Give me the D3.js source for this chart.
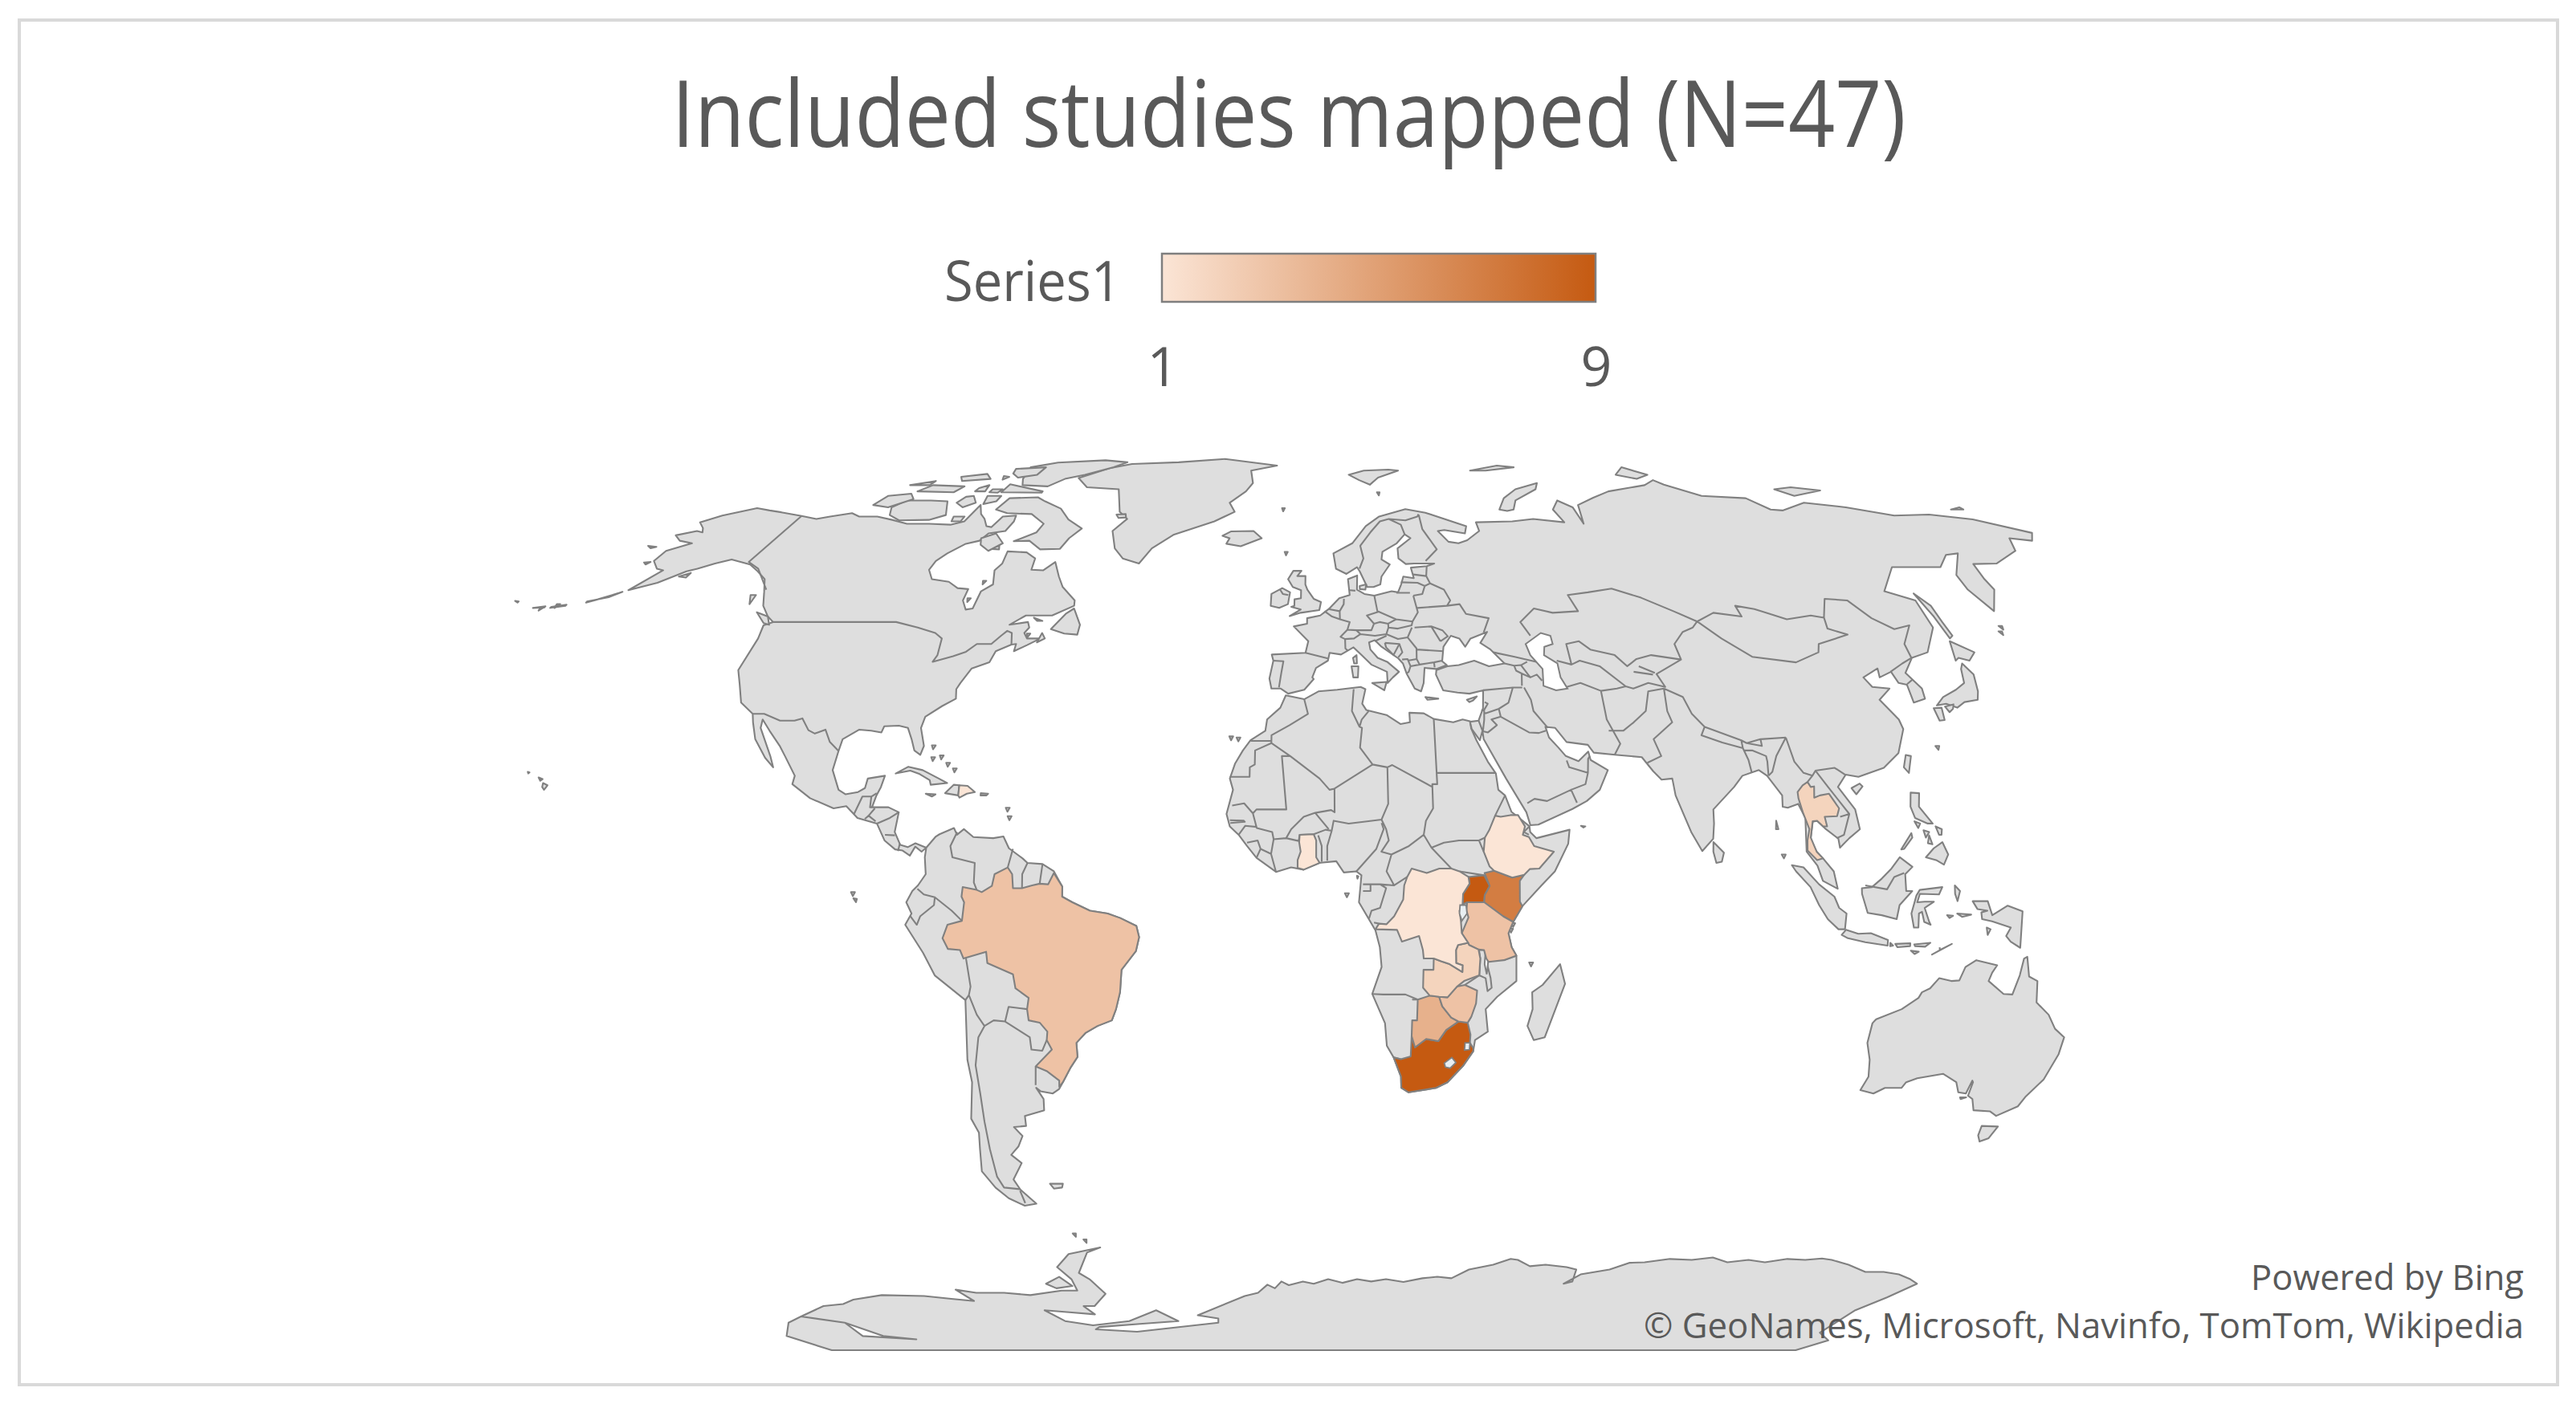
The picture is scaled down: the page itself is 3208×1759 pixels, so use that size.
<!DOCTYPE html>
<html>
<head>
<meta charset="utf-8">
<script src="https://cdn.jsdelivr.net/npm/d3@7"></script>
<style>
  html, body { margin: 0; padding: 0; background: #fff; }
  text { font-family: "Open Sans", sans-serif; fill: #595959; }
  .land { fill: #dedede; stroke: #808080; stroke-width: 2.1; stroke-linejoin: round; }
  .border { fill: none; stroke: #808080; stroke-width: 2.1; stroke-linejoin: round; }
  .hole { fill: #e9eff2; stroke: #808080; stroke-width: 1.8; }
  .water { fill: #fff; stroke: #808080; stroke-width: 2; }
</style>
</head>
<body>
<div id="chart"></div>
<script>
// values per country, estimated from the shading
const studyCountries = ["South Africa","Uganda","Kenya","Botswana","Brazil","Tanzania","Zimbabwe","Zambia","Thailand","DR Congo","Ethiopia","Ghana","Dominican Republic"];
const studyCounts = [9,9,7,4,3,3,3,2,2,1,1,1,1];
const legendTicks = [1,9];

// country outlines [lon,lat]
const southAfrica = [[16.5,-28.6],[18,-28.9],[20,-28.4],[20,-24.8],[20.8,-26.8],[23,-25.3],[25.5,-25.7],[27,-23.7],[29.4,-22.2],[31.3,-22.4],[32,-24.5],[32,-26],[32.8,-27],[32.8,-27.5],[31,-30],[28,-33],[25.7,-34],[20,-34.8],[18.4,-34],[18.2,-32]];
const uganda = [[31,2.3],[30.8,3.5],[33.9,3.8],[35,1.9],[34,0.3],[33.9,-1],[30.5,-1],[29.6,-1.4],[29.7,0.5]];
const kenya = [[33.9,-1],[34,0.3],[35,1.9],[34,4.2],[35.9,4.6],[39.5,3.4],[41.9,3.9],[41,2.8],[41,-0.9],[41.5,-1.7],[39.7,-4.5],[37.7,-3.5]];
const botswana = [[20,-18.3],[21,-18.3],[23.4,-17.6],[25.3,-17.8],[26,-19.5],[27.9,-21.5],[29.4,-22.2],[27,-23.7],[25.5,-25.7],[23,-25.3],[20.8,-26.8],[20,-24.8],[20,-22],[21,-22],[21,-18.3]];
const brazil = [[-51.7,4.2],[-50,1.8],[-50,0],[-48,-1],[-44.5,-2.5],[-41,-3],[-38.5,-3.8],[-35.3,-5.2],[-34.8,-7.2],[-35.5,-9.7],[-38.5,-13],[-39,-17],[-40,-20],[-41,-22],[-44,-23],[-46.5,-24.2],[-48.6,-26],[-48.7,-28.5],[-50.5,-30.5],[-52.5,-33],[-53.4,-33.8],[-53.2,-32.7],[-55.5,-31],[-57.6,-30.2],[-53.8,-27.2],[-54.6,-25.5],[-54.3,-24],[-55.7,-22.4],[-57.9,-22],[-58,-20],[-57.5,-18],[-60,-16.3],[-60.3,-13.8],[-65.3,-11.8],[-65.4,-9.8],[-70,-11],[-70.6,-9.5],[-73,-9.3],[-74,-7.4],[-72.9,-5],[-70,-4.3],[-69.5,-1],[-70,0],[-69.8,1.7],[-67,1.2],[-66,0.8],[-64,1.9],[-63.5,4],[-60.9,5.2],[-60,4],[-59.8,1.5],[-58,1.5],[-56,2],[-54.5,2.3],[-52.8,2.2]];
const tanzania = [[30.5,-1],[33.9,-1],[37.7,-3.5],[39.7,-4.5],[38.8,-6.5],[39.5,-9],[40.5,-10.5],[38,-11.3],[35,-11.6],[34.5,-11],[34,-9.5],[32.9,-9.4],[31,-8.6],[29.5,-6.5],[30.8,-3.7],[30.4,-2.5]];
const zimbabwe = [[25.3,-17.8],[27,-17.9],[28.8,-16],[30.4,-15.7],[32.9,-16.7],[32.8,-19],[32,-21.3],[31.3,-22.4],[29.4,-22.2],[27.9,-21.5],[26,-19.5]];
const zambia = [[24,-11],[25.5,-11.5],[27.2,-12],[29.8,-13.4],[29.8,-12.2],[28.5,-11.8],[28.4,-9.5],[28.8,-8.6],[30.8,-8.2],[31,-8.6],[32.9,-9.4],[33.3,-11],[33.2,-14],[30.2,-15],[28.8,-16],[27,-17.9],[25.3,-17.8],[23.4,-17.6],[22,-16.2],[22,-13],[24,-13]];
const thailand = [[100,20.4],[100.5,19.5],[101.2,19.6],[100.9,17.6],[102.1,18],[104,18.3],[105.6,15.7],[105,14.3],[102.5,14.2],[102.8,12.5],[102,12.5],[100.9,13.5],[100,13.4],[99.3,10.5],[100.3,8],[101.5,6.8],[100.3,6.5],[98.5,8.2],[98.6,10],[99.2,12],[98.2,15],[97.7,17.5],[97.7,18.6],[98.9,19.8]];
const drCongo = [[12.3,-5.8],[13,-4.8],[14.5,-4.9],[16,-3.5],[17.8,-0.5],[18,2],[18.6,3.5],[19.5,5],[22.5,4.2],[25,5],[27.4,5],[29,4.5],[30.8,3.5],[31,2.3],[29.7,0.5],[29.6,-1.4],[29,-2.5],[29.3,-4.4],[29.5,-6.5],[30.8,-8.2],[28.8,-8.6],[28.4,-9.5],[28.5,-11.8],[29.8,-12.2],[29.8,-13.4],[27.2,-12],[25.5,-11.5],[24,-11],[22,-11],[21.8,-9.5],[21,-7],[17.6,-8],[16.6,-5.9]];
const ethiopia = [[36.4,14.4],[37.5,14.2],[39.5,14.5],[41,14.5],[42.3,12.5],[41.8,11],[43,10.6],[44,9],[47.9,8],[44.9,5],[43,4.9],[41.9,3.9],[39.5,3.4],[35.9,4.6],[35,5.4],[33.9,8],[34.2,10.5],[35.1,11.8]];
const ghana = [[-3.2,5.1],[-2,4.8],[1.2,6],[0.5,7],[0.5,10],[0,11.1],[-2.8,11],[-2.9,9.7],[-2.6,8],[-3.2,6.5]];
const dominican = [[-71.7,19.8],[-70,19.7],[-68.4,18.6],[-70,18.3],[-71.4,17.6],[-71.7,18]];
const studyShapes = [southAfrica,uganda,kenya,botswana,brazil,tanzania,zimbabwe,zambia,thailand,drCongo,ethiopia,ghana,dominican];

// land
const northAmerica = [[-168,65.6],[-164,66.5],[-162,66.2],[-163.5,67.1],[-166.5,68.3],[-163,69.7],[-156.5,71.3],[-152,70.8],[-148,70.4],[-141,69.6],[-136,69],[-133,69.5],[-128,70.2],[-125,69.5],[-120,69.5],[-115,68.8],[-110,68],[-104,68],[-98,67.8],[-95,68.5],[-94.5,72],[-92,70],[-90,69],[-88,67.5],[-86.5,67.3],[-85.5,69.5],[-82,69.7],[-81.5,68.5],[-82,66.5],[-86,66],[-87,64.5],[-90,63.9],[-93,62],[-94.5,60.5],[-94.7,58.8],[-92.5,57],[-88,56.5],[-85,55.3],[-82.3,55.1],[-82.2,53],[-80.5,51.3],[-79,51.5],[-79,54.7],[-77,56],[-78.5,58.7],[-77.5,60],[-78,62.4],[-73,62.2],[-70,61],[-69.5,58.8],[-66.5,58.7],[-64.5,60.3],[-62,57.5],[-60,55.5],[-56,53],[-55.7,52],[-60,50.2],[-66,50.2],[-69,48.5],[-65,49],[-64.3,48],[-65,47],[-64,46],[-61,46],[-63.5,44.8],[-66,43.7],[-66,45],[-67,44.9],[-70,43.7],[-70.6,41.7],[-74,40.6],[-75.5,38],[-76,36.9],[-75.5,35.2],[-78,33.9],[-81,32],[-81.3,30],[-80,26.8],[-80.4,25.2],[-81.8,26],[-82.8,28],[-84,30],[-86,30.4],[-89,30.3],[-89.3,29.2],[-91.5,29.5],[-94,29.7],[-97,28],[-97.3,25.8],[-97.8,22.5],[-96,19],[-94.5,18.2],[-92,18.6],[-90.7,19.3],[-90.4,21],[-87,21.5],[-87.5,19.5],[-88.2,18],[-88.8,15.9],[-85.5,15.9],[-83.3,15],[-83.8,11.5],[-82.5,9.2],[-81,8.8],[-79.5,9.5],[-77.3,8.7],[-78.2,8],[-79.5,8.9],[-80.5,7.3],[-82,8.2],[-83.5,8.4],[-85.7,10],[-87.5,13],[-91.5,14],[-94,16.1],[-96.5,15.7],[-101.5,17.5],[-105.5,20],[-105.3,21.5],[-108,25],[-109.5,26.7],[-112.5,29.5],[-114.7,31.5],[-114.5,30],[-111,25],[-110,23],[-112,24.7],[-115,28],[-116.5,31],[-117.2,32.5],[-120.5,34.5],[-122.5,37.7],[-124.3,40.3],[-124,46],[-124.7,48.4],[-123,49],[-125,50],[-128,52],[-130.3,54.5],[-133,57],[-136.5,58.5],[-140,59.8],[-146,60.8],[-149,60],[-152,59],[-154,58.5],[-158,56.3],[-163,54.9],[-160,58.7],[-162,59],[-165,60.5],[-165.2,62.5],[-161,64],[-165,64.5]];
const southAmerica = [[-77.3,8.7],[-75.5,10.7],[-74.8,11.1],[-72,12.2],[-71.3,11],[-70,12],[-68,10.6],[-64,10.4],[-62,10.7],[-60.8,8.6],[-58,6.8],[-57,6],[-54,5.8],[-51.7,4.5],[-50,1.8],[-50,0],[-48,-1],[-44.5,-2.5],[-41,-3],[-38.5,-3.8],[-35.3,-5.2],[-34.8,-7.2],[-35.5,-9.7],[-38.5,-13],[-39,-17],[-40,-20],[-41,-22],[-44,-23],[-46.5,-24.2],[-48.6,-26],[-48.7,-28.5],[-50.5,-30.5],[-52.5,-33],[-53.5,-34.2],[-55,-35],[-57.5,-34.6],[-58.3,-34],[-57.2,-36],[-57.6,-38],[-62,-39],[-62.3,-40.8],[-65,-41],[-63.7,-42.6],[-65.3,-44.5],[-67.5,-46],[-65.8,-47.5],[-69,-50.5],[-68.4,-52.4],[-66,-55],[-69,-55.4],[-72,-54],[-74,-52],[-75.5,-49],[-74,-45],[-73,-42],[-73.7,-39.5],[-71.5,-33],[-71.5,-29],[-70.3,-18.4],[-76,-14],[-78,-10],[-81.3,-5],[-80,-3],[-81,-1],[-79.8,1],[-78.7,2],[-77.2,4],[-77.5,7]];
const africa = [[-5.9,35.8],[-2,35.1],[1,36.5],[5,36.8],[10,37.3],[11,36.9],[10.2,34.3],[11,33.2],[15.2,32.3],[18,30.7],[20,31],[20,32.7],[23,32.6],[25,31.6],[29,31],[31,31.5],[32.5,31.2],[32.6,29.9],[33.5,27.8],[35.5,24],[37,21.9],[37.3,19],[38.6,18],[39.7,15.1],[43.2,12.5],[43.3,11.5],[44.5,10.4],[51.2,11.9],[50.8,9.4],[48,4.5],[45.3,2],[41.5,-1.7],[39.7,-4.5],[38.8,-6.5],[39.5,-9],[40.5,-10.5],[40.7,-15],[37,-17.8],[34.8,-20],[35.5,-24],[33,-25.5],[32.8,-27.5],[31,-30],[28,-33],[25.7,-34],[20,-34.8],[18.4,-34],[18.2,-32],[16.5,-28.6],[15,-26.5],[14.5,-22.5],[11.8,-17.3],[13.6,-12.5],[13.2,-9],[12.3,-6],[9,-1],[9.5,3.8],[8.5,4.5],[6,4.3],[4.5,6.3],[1,6],[-2,4.8],[-4.5,5.2],[-7.5,4.4],[-11.4,6.9],[-13.3,9],[-15,11],[-16.8,12.5],[-17.5,14.7],[-16.3,19],[-17,21],[-16,23.7],[-14.5,26],[-13,27.8],[-10,29.5],[-9.7,31.5],[-7,33.6]];
const eurasia = [[-5.4,36.1],[-7,37],[-9,37],[-9.5,38.8],[-8.8,42],[-9.2,43.1],[-1.8,43.4],[-1.2,45.5],[-4.5,48.2],[-1.5,48.7],[-1.5,49.7],[1.5,50.2],[3.5,51.4],[6,53.4],[8.5,54],[8.3,57],[10.6,57.7],[10.3,55],[12,54.2],[14.3,53.9],[18.5,54.7],[20,54.5],[21,56],[21.8,57.5],[24.3,57.2],[24,59.2],[28,59.5],[30,60],[25,60],[22.9,59.9],[21.3,61],[21.5,63],[25.3,65],[24,65.8],[21.5,64],[17.5,62.3],[17,60.8],[18.9,59.8],[16.5,57.5],[16,56],[14.3,55.5],[12.8,55.5],[11.3,58.5],[10.7,59.3],[8,58],[5.5,59],[5,62],[10,64],[14,67.5],[18,69.5],[25.7,71.1],[31,70.3],[41,67.5],[40,66],[34.8,66.7],[33,66.5],[35,64.3],[37.5,64],[40,64.6],[44,66.5],[44,68.3],[54,68.5],[60,69],[68,68.3],[67,71],[70,73],[73,71.5],[73,68],[75,72],[81,73.6],[87,75],[100,76.5],[104.5,77.7],[106,76.6],[113,74],[125,73.5],[128,71],[131,70.8],[140,72.5],[150,71.5],[160,69.7],[170,69.9],[180,68.9],[190.2,66.1],[187,64.5],[182,65],[179,62.5],[170,60],[164,59.9],[162.5,57],[162,55],[157,51],[155.7,55],[156.8,57.8],[163.5,62],[160,61.7],[155,59.3],[143,59.3],[135.5,54.7],[141,53],[140,48],[135,43.5],[130.8,42.5],[127.5,39.8],[129.4,37],[129,35.2],[126.3,34.5],[126.6,37.7],[125,38],[124.5,40],[121.5,39],[122,40.6],[118,39],[119,37.3],[122.5,37],[119.3,35],[121.8,31.5],[122,29.8],[119.6,25.5],[116,22.9],[110.5,21.3],[108,21.7],[106,19.5],[108.8,15.5],[109.3,12],[107,10.4],[105,8.7],[104.8,10.3],[102.5,12],[100.9,13.5],[100,13.3],[99.2,10],[100.3,8],[101.5,6.8],[103.5,4.5],[104.2,1.4],[101.3,2.8],[100.3,5.5],[98.3,8],[98.6,14],[97.5,16.5],[95.3,15.8],[94.3,16],[94.5,18],[92,21.5],[90.5,22.5],[87,21.5],[85,19.5],[80.3,15.5],[80.2,13],[79.8,10.3],[77.5,8.1],[75.5,11.5],[73,18],[72.7,21],[70.5,20.8],[69,22.3],[67,24.8],[62,25.2],[57.3,25.6],[56.3,27],[52,27.5],[50,30],[48,30.2],[48.5,28.3],[50.2,26.5],[51.5,25],[54,24.1],[56.2,25.8],[56.5,24.3],[59.8,22.5],[57.8,19],[55,17],[52,15.6],[45,12.8],[43.4,12.7],[42.7,15],[39,21],[35,28],[34.9,29.5],[34.2,27.8],[32.7,29.8],[32.5,31.1],[34.3,31.3],[35.5,33.5],[36,36.7],[33,36.1],[30.5,36.3],[27.5,36.7],[26.3,39.5],[26.5,40.3],[29,41],[31.5,41.2],[35,42],[38,41],[41.5,41.5],[39,44],[37,45.2],[39,47.2],[35,46],[33.5,44.5],[32.5,46],[30.7,46.5],[28.7,44.5],[28,41.9],[28.9,41.2],[26.5,40.5],[24,40.7],[23.5,38],[22.8,36.5],[21.5,37],[20,39.7],[19.4,41.5],[18.5,42.4],[15,44.5],[13.6,45.7],[12.3,45.3],[12.5,44],[14,42.5],[16,41.8],[18.4,40],[17,39],[15.8,38],[15.8,40],[12.5,41.3],[10.5,43],[8.8,44.4],[6,43.1],[3.5,43.4],[3.1,42],[0.5,40.7],[-0.3,39],[0,38.7],[-2,36.8]];
const greenland = [[-73,78.2],[-68,76],[-58,75.5],[-54,70.5],[-51,69],[-53.5,66.5],[-51,63],[-48,61],[-43.5,60],[-41.5,63],[-37,65.7],[-27,68.5],[-22,70.5],[-24,72.5],[-20,75],[-18.5,77],[-20,80],[-12,81.5],[-30,83.5],[-45,82.5],[-60,82],[-66,80.7]];
const australia = [[113.6,-22.5],[114.2,-21.8],[119,-20],[122,-18],[122.5,-17],[124,-16.3],[125.5,-14.5],[128,-15],[129.6,-14.9],[130.5,-12.5],[132.5,-11.3],[136.8,-12.2],[136,-13.5],[135.5,-15],[139,-17.3],[140.8,-17.4],[141.6,-14],[142,-11],[142.6,-10.7],[143.5,-14.2],[145.3,-15],[146,-18.8],[149,-21],[151,-23.5],[153.3,-25],[153.4,-28],[152.5,-32.5],[150.5,-35.5],[150,-37.3],[146.5,-39],[144.7,-38.2],[141,-38],[139.5,-36],[138.2,-35.4],[138,-33],[137.7,-32.7],[137.5,-35],[135.8,-34.8],[134.5,-33],[131,-31.5],[126,-32.3],[124,-33],[123.5,-34],[120,-34],[118,-35],[115,-34.4],[115.7,-32],[114.8,-29],[113.4,-26]];
const antarctica = [[-180,-84],[-168,-80],[-160,-78.5],[-150,-80],[-154,-84],[-138,-85],[-147,-84],[-150,-80],[-160,-78.5],[-147,-76],[-140,-75.5],[-135,-74.5],[-125,-73.5],[-113,-73.7],[-106,-74.3],[-100,-74.8],[-102,-72.3],[-97,-73],[-89,-73],[-82,-73.5],[-72,-72.5],[-67.5,-72.5],[-67,-70],[-69,-67.5],[-64,-64.8],[-55,-63.5],[-59,-64.5],[-64,-68.7],[-62,-70],[-60,-73.2],[-65.7,-76],[-69,-76],[-67.7,-78],[-75,-77.5],[-82,-77],[-79,-79.6],[-71.5,-80.8],[-58.6,-79.6],[-48,-77],[-43,-79.6],[-55,-80.3],[-70,-81.3],[-72,-82],[-59,-82.7],[-30.5,-80],[-30,-79],[-36,-78.2],[-20,-73.7],[-16,-73],[-13,-71.2],[-11,-72],[-9,-70.5],[-7,-71.3],[-3,-70.5],[0,-71],[4,-70],[8,-70.8],[12,-70],[16,-70.5],[20,-70],[25,-70.6],[30,-69.8],[34,-69.5],[38,-69.8],[42,-68],[48,-67],[52,-65.8],[54,-66],[58,-67.3],[62,-67],[68,-67.5],[71,-68],[72,-70.5],[70,-71],[73,-69],[80,-68],[84,-66.6],[88,-66.5],[94,-65.8],[100,-66],[105,-65.5],[110,-66.5],[115,-66],[120,-66.5],[125,-65.8],[130,-66],[134,-65.7],[137,-66],[143,-67],[150,-68.5],[155,-68.5],[160,-69],[165,-70],[169,-71],[167,-74],[165,-77],[170,-83],[180,-85.5],[180,-90],[-180,-90]];
const bigIslands = [
  [[-80,73.7],[-77,72.8],[-71,71.2],[-67,68.9],[-62,67],[-64,65],[-65,62.9],[-70,62.8],[-74,64.5],[-78,64.4],[-73.5,66.2],[-73,68],[-78,70],[-85,70.2],[-89,71],[-88,73.5]],
  [[-117,73],[-119,71.5],[-117,69.8],[-113,68.7],[-105,68.8],[-101.5,69.8],[-105,72.8],[-110,73]],
  [[-125,72],[-124,74],[-118,74.5],[-115.5,73.3],[-120,71.5]],
  [[-62,82.5],[-70,83.1],[-85,82.4],[-92,81],[-90,78],[-88,76.5],[-80,76.2],[-77,78],[-72,79],[-65,81]],
  [[-92,76.7],[-80,75],[-80,74.7],[-92,74.8]],
  [[-117,75],[-106,74.8],[-105,76.2],[-115,76.5]],
  [[-100,75.8],[-98,76.5],[-97,75],[-100,75]],
  [[-95.5,75.5],[-92.5,75.5],[-93,74.7],[-95.5,74.8]],
  [[-101,73.8],[-99,74],[-96.5,72.5],[-99,71.5],[-102,72.5]],
  [[-95,74],[-91,74],[-91,72.8],[-94,72.2]],
  [[-99,69.5],[-96,69.5],[-96,68.5],[-98.5,68.5]],
  [[-96,80.5],[-87,81],[-87,79],[-92,78.3],[-95,79.3]],
  [[-110,78.5],[-103,79.2],[-100,78],[-108,77.5]],
  [[-122,76.5],[-116,77.5],[-116,76.5]],
  [[-97,78.7],[-95,78.5],[-96,77.8]],
  [[-83.5,62.9],[-81,63.5],[-80.5,62.8]],
  [[-54.5,69.9],[-52,70],[-51.5,69.3],[-53.5,69.2]],
  [[-87,65],[-84,66],[-80.5,64],[-83,62.5],[-86,63.7]],
  [[-59.3,47.7],[-57,50.5],[-55.5,51.5],[-53,48.5],[-53,46.7],[-56,46.9]],
  [[-64,49.8],[-61.8,49.2],[-63,49.2]],
  [[-61,47],[-60,46],[-61.5,45.3]],
  [[-128.3,50.8],[-125,50],[-123.5,48.5],[-125,48.8]],
  [[-133,54],[-131.7,54],[-131.5,52.3]],
  [[-154.5,57.5],[-152.5,58.2],[-152.5,57.3]],
  [[-84.9,21.9],[-82.5,23.1],[-79.5,22.5],[-76,21],[-74.2,20.2],[-77.5,19.9],[-77.8,20.7],[-80,21.8],[-82,22.4]],
  [[-74.4,18.4],[-72.8,19.9],[-71.7,19.8],[-71.7,18]],
  [[-78.3,18.3],[-76.3,18.2],[-77,17.8]],
  [[-67.2,18.4],[-65.7,18.3],[-66,18],[-67.2,18]],
  [[-24,65.5],[-22,66.4],[-16,66.5],[-13.6,65],[-18.8,63.4],[-22.6,63.9],[-22,65]],
  [[-10,52],[-10,54.2],[-7.5,55.3],[-5.6,54.5],[-6,52.3],[-8,51.6]],
  [[-5.5,50.1],[-3,50.7],[1.3,51.2],[1.7,52.7],[0,53.3],[-1.5,55],[-2,56],[-2,57.6],[-4,57.6],[-3,58.6],[-5,58.6],[-6.2,57],[-5,55.5],[-3,54.9],[-3,53.4],[-4.5,53.2],[-4.5,52],[-5.2,51.8],[-3,51.3]],
  [[11,55.7],[12.6,56],[12.3,55],[11,55.1]],
  [[8.2,41],[9.7,41],[9.5,39],[8.5,39]],
  [[8.6,42.5],[9.4,43],[9.4,41.5],[8.8,41.5]],
  [[12.5,38],[15.6,38.2],[15,36.7]],
  [[23.6,35.5],[26.3,35.2],[24,35]],
  [[32.3,35],[34.5,35.6],[33.6,34.9],[32.8,34.6]],
  [[11,79],[16,80],[24,80.3],[27,80],[20,78.3],[17,76.6],[14,77.7]],
  [[52,71],[55,73.5],[60,75.5],[68,77],[66,75.5],[58,73],[56,71],[54,70.7]],
  [[50,80],[60,81.5],[65,81],[55,80]],
  [[95,79],[100,81],[105,79],[100,78]],
  [[137,75.5],[143,76],[150,75.2],[140,74]],
  [[178.5,71],[182,71.5],[182,71]],
  [[142,54.3],[143.5,52],[143,49],[143,46.5],[142,46],[142,50]],
  [[140,42],[141.5,45.5],[145.3,43.5],[143,42],[141,42.5]],
  [[130.9,34],[133,35.5],[136.5,36.8],[139,38],[140,40.5],[141,41.5],[142,39.5],[141,36.5],[140,35],[137,34.6],[135,33.6],[133,34.3]],
  [[130,33.5],[131.7,33.6],[131.3,31.4],[130.2,31.3]],
  [[132.5,33.8],[134.5,34.2],[134,33.4],[133,32.8]],
  [[121,25.2],[122,25],[120.9,22],[120.1,23]],
  [[108.7,19.3],[110.5,20.1],[111,19.6],[109.5,18.2]],
  [[120.5,18.5],[122.2,18.4],[121.7,16],[124,13],[123,13],[120.6,14],[120,16]],
  [[122,7],[123.7,8.6],[125.5,9.7],[126.5,7.5],[125.5,5.7],[124,6.5]],
  [[117.2,8.4],[119.5,11.3],[119.6,10.5],[117.8,8.5]],
  [[124.5,12.5],[125.7,12],[125.5,11],[125,11]],
  [[122,11.8],[123.1,11.5],[122.3,10.5]],
  [[123,10.9],[123.5,9.3],[122.6,9.5]],
  [[120.4,13.4],[121.5,13],[121,12.2]],
  [[109,1.5],[111,1.7],[113,3.2],[115,5],[116.8,7],[119.2,5.3],[117.7,4],[117.8,1],[119,1],[116.5,-1.5],[116,-4],[113,-3.3],[110.2,-2.9],[109,0.5]],
  [[95.2,5.6],[97.5,5.2],[100.5,2.2],[103.5,0],[104.5,-2],[106,-3],[105.8,-5.8],[104.5,-5.8],[102.3,-4],[100.5,-1.5],[98.8,1.7],[96,4.5]],
  [[105.2,-6.8],[106,-5.9],[108.5,-6.6],[111,-6.5],[114.5,-7.7],[114.5,-8.7],[110,-8.1],[106.5,-7.4]],
  [[115,-8.2],[115.6,-8.7],[115,-8.8]],
  [[116,-8.4],[119,-8.3],[119,-8.8],[116.5,-9]],
  [[119.8,-8.5],[123,-8.2],[122,-8.9],[120,-8.8]],
  [[123.5,-10.3],[127.3,-8.4],[125,-9.5]],
  [[119.2,-9.6],[120.8,-9.8],[120,-10.2]],
  [[119.8,0.2],[120.5,1.2],[125,1.7],[124.3,0.4],[120.5,0.5],[120,-1],[121.5,-0.9],[123.3,-0.9],[122,-1.7],[121.5,-2],[122.5,-4.5],[122.8,-5],[121.5,-4.5],[121,-2.7],[120.4,-3],[120.4,-5.5],[119.5,-5.5],[118.9,-3]],
  [[128,-3],[130.8,-3.2],[129,-3.6]],
  [[126,-3.3],[127.2,-3.4],[126.5,-3.8]],
  [[127.5,2],[128.5,1],[128,-0.8],[127.5,0.5]],
  [[131,-0.8],[134,-0.8],[135,-3.3],[138,-1.6],[141,-2.6],[141,-9.1],[139,-8],[138,-7],[138.8,-5.5],[135,-4.4],[133,-4],[132.8,-2.8],[134,-2.5],[132,-2.2]],
  [[134,-5.5],[134.8,-5.8],[134.3,-6.8]],
  [[79.8,9.7],[81.8,7.8],[81.3,6.2],[80.2,6],[79.7,8]],
  [[49.3,-12],[50.5,-15.5],[47.2,-25],[45,-25.5],[43.5,-23],[44.3,-20],[44,-17],[46,-15.7]],
  [[144.7,-40.8],[148.3,-40.9],[148,-43],[146.5,-43.6],[145.3,-42.5]],
  [[136.7,-35.7],[138,-35.7],[137,-36]],
  [[-61,-51.3],[-58,-51.3],[-58.5,-52],[-60.5,-52.2]],
  [[-170,52.8],[-166,53.6],[-164,54.6],[-164.5,54.4],[-168,53.2],[-170,52.6]],
  [[-177,51.8],[-174,52.2],[-174,52],[-177,51.6]],
  [[-181,51.6],[-178.5,51.9],[-178.5,51.7]],
  [[-187,52.9],[-186,52.8],[-186,52.6]],
  [[-171.5,63.5],[-169,63.3],[-170,63]],
  [[-167,60.2],[-165.5,60.3],[-166,59.8]],
  [[-156,20.2],[-155,19.8],[-155.5,19],[-156,19.5]],
  [[-157.2,21.2],[-156.3,20.9],[-156.7,20.6]],
  [[-159.7,22.2],[-159.3,22.1],[-159.5,21.9]],
  [[-91.5,-0.3],[-90.8,-0.4],[-91,-1]],
  [[92.7,13.5],[93,12],[92.5,12]],
  [[53.5,12.6],[54.4,12.5],[54,12.3]],
  [[8.6,3.7],[8.9,3.6],[8.7,3.2]],
  [[-75,-71],[-70,-69.5],[-68,-71.5],[-73,-72]]
];
const tinyIslands = [[-78,26.6],[-77.7,24.5],[-76,24.8],[-74.5,23.5],[-73,22.5],[-61.5,15.5],[-61,14],[-17,28.2],[-15.5,28],[-7,62],[-8.5,71],[19,74.5],[43.5,-12],[93.7,7.2],[6.6,0.3],[39.3,-6],[39.7,-5],[128,26.5],[154.5,47],[155.5,48],[-91.6,0.5],[-176,52],[-179,51.5],[-81,53.1],[-79.5,56.4],[-64,46.6],[-60,-61],[-58,-62.2]];

// internal borders
const borders = [
  [[-2,35.1],[-1.2,32.5],[-5,30.5],[-8.7,28.7],[-8.7,27.3],[-4.8,25],[1.2,21],[3.2,19],[4.2,19.2],[12,23.5],[9.5,26.5],[10,30],[9.5,30.2],[8,33],[8.5,36.9]],
  [[-8.7,27.7],[-13,27.7]],[[-8.7,27.3],[-12,26],[-12,23.5],[-13,23],[-13,21.3],[-17,21.3]],
  [[-4.8,25],[-6.5,25],[-5.5,15.5],[-11.5,15.5],[-12.2,14.8],[-14,16.6],[-16.4,16.2]],
  [[11.5,33],[10,31.5],[9.5,30.2]],
  [[25,31.6],[25,20],[24,20],[24,19.5],[16,23.4],[15,23],[12,23.5]],
  [[25,22],[37,22]],
  [[4.2,19.2],[4.2,15],[3.5,15.4],[0.3,14.9],[-2,14.2],[-4.5,12],[-5.5,10.4],[-3,9.9],[-2.8,11],[0,11.1],[2.4,11.9],[3.6,11.7],[4,13.5],[7,13],[10,13.3],[13.6,13.7],[15,16.5],[15,23]],
  [[0.3,14.9],[3,12]],
  [[3.6,11.7],[2.7,9],[2.7,6.4]],[[0.9,10.9],[1.6,9],[1.6,6.2]],
  [[-5.5,10.4],[-8,10.2],[-8.3,11.5],[-11.4,12.2],[-12.2,14.8]],
  [[-11.4,12.4],[-13.7,12.6],[-15,11]],
  [[-16.8,13.6],[-14,13.5],[-13.8,13.3],[-16.7,13.1]],
  [[-13.3,9.6],[-11.2,10],[-10.6,8.5],[-8.5,7.6]],[[-10.6,8.5],[-11.4,6.9]],
  [[-8,10.2],[-8.5,7.6],[-7.5,4.4]],
  [[13.6,13.1],[14,12],[12.5,8.5],[9,5],[8.5,4.5]],
  [[13.6,13.7],[14.5,12],[15,10],[13.5,8],[15.5,7.5],[19,9],[22,11],[22.5,13.5],[24,15.7],[24,19.5]],
  [[22,11],[23.5,8.7],[27.4,5]],
  [[23.5,8.7],[26,9.6],[29,10],[33,10],[34.2,10.5]],
  [[33.9,8],[33,10]],
  [[29,4.5],[33.9,3.8]],
  [[38.6,18],[36.4,14.4]],
  [[43,11],[42,11.5],[43.2,12.5]],
  [[15.5,7.5],[14.5,4.5],[16,2],[18.6,3.5]],
  [[16,2],[13.2,2.2],[9.8,2.2]],[[9.8,1],[11.3,1],[11.3,2.2]],
  [[13.2,2.2],[14.4,1.5],[13.2,-2],[11.5,-2.5],[11,-3.9]],
  [[12,-4.6],[13,-4.8]],
  [[11.8,-17.3],[14,-17.4],[18.5,-17.4],[21,-18.3]],
  [[16.5,-28.6],[18,-28.9]],
  [[34,-9.5],[33,-9.5],[33.3,-11],[33.2,-14],[34.5,-14.5],[35,-16.8],[35.8,-16.2],[35.5,-14.5],[34.7,-12]],
  [[40.5,-10.5],[38,-11.3]],
  [[30.4,-15.7],[33.2,-14]],
  [[32,-21.3],[31.3,-22.4]],
  // south america
  [[-71.3,11.5],[-72.5,9],[-72,7],[-67.5,6],[-67.6,2.5],[-67,1.2]],
  [[-70,-4.3],[-72,-2.5],[-75.3,-0.1],[-77.5,0.4],[-78.8,1.4]],
  [[-75.3,-0.1],[-75.5,-1.5],[-78.3,-3.5],[-79,-5],[-80.3,-3.4]],
  [[-60.9,5.2],[-60,8.5]],[[-58,1.5],[-58,4],[-57,6]],[[-54.5,2.3],[-54,5.8]],
  [[-69.5,-11],[-69,-16],[-69.5,-17.5],[-70.3,-18.4]],
  [[-69.5,-17.5],[-68.3,-21],[-67,-23],[-65,-22],[-62.7,-22.2],[-61.7,-19.6],[-58,-20]],
  [[-62.7,-22.2],[-58,-25],[-58,-27.2],[-55.8,-27.4],[-54.6,-25.5]],
  [[-67,-23],[-68.5,-25],[-70,-30],[-70.3,-35],[-71,-40],[-71.8,-45],[-72.5,-50],[-72,-52],[-68.5,-52.3]],
  [[-68.6,-52.6],[-68.6,-54.9]],
  [[-57.6,-30.2],[-58.3,-33.5]],
  // north and central america
  [[-92.3,14.6],[-91,17.8],[-89.2,17.8],[-88.2,18.4]],[[-89.2,17.8],[-89.2,15.9],[-88.8,15.9]],
  [[-88.2,15.7],[-89.3,14.4],[-90,13.8]],[[-89.3,14.4],[-87.8,13.4]],
  [[-87.5,13],[-85,14],[-83.3,15]],[[-85.7,11],[-83.7,10.9]],[[-82.9,8.1],[-82.6,9.5]],
  [[-117.2,32.5],[-114.8,32.5],[-111,31.3],[-108,31.3],[-106.5,31.7],[-104.5,29.6],[-103,29],[-101,29.7],[-99.5,27.5],[-97.3,25.9]],
  [[-123,49],[-95,49],[-89.5,48],[-85,47],[-83,46],[-82.5,43],[-83,41.8],[-79,42.8],[-76.5,43.6],[-74.7,45],[-71.5,45],[-70,46.5],[-69,47.4],[-67.8,47],[-67,44.9]],
  [[-141,69.6],[-141,60.3],[-137,59],[-130.3,55]],
  // europe
  [[-8,55],[-7.3,54.2],[-6,54]],
  [[-8.8,42],[-6.6,41.9],[-7,39.7],[-7.4,37.2]],
  [[-1.8,43.4],[3.1,42.4]],
  [[2.5,51],[4.2,50],[6,49.5],[8.2,49],[7.6,47.6],[6,46.3],[7,45.9],[7,44.2],[7.5,43.8]],
  [[3.4,51.4],[6,51],[6,49.5]],[[6,51],[7,52.3],[7.1,53.3]],
  [[8.6,54.9],[9.9,54.8]],
  [[14.3,53.9],[14.7,51],[15,50.9],[12.2,50.2],[13.7,48.7],[13,47.5],[9.6,47.5],[7.6,47.6]],
  [[7,45.9],[9,46],[10.5,46.8],[9.6,47.5]],
  [[10.5,46.8],[13.7,46.5],[16.3,46.8],[16.9,48],[19,47.8],[22.2,48.4],[22.5,49.1]],
  [[13.7,48.7],[15,49],[16.9,48.7],[16.9,48]],
  [[15,50.9],[18.8,49.5],[22.5,49.1],[24,50.8],[23.5,53.9]],
  [[16.9,48.7],[18.8,49.5]],
  [[19.6,54.4],[22.8,54.4]],
  [[21,56.4],[25,56.3],[26.6,55.7],[25.7,54.2],[23.5,53.9]],
  [[24.3,57.9],[27.4,57.6],[28,56.2],[31,55],[32,53],[31,52],[34,52.3],[35,50.5],[40,49.7],[38.2,47.1]],
  [[27.4,57.6],[28,59.5]],[[28,56.2],[26.6,55.7]],
  [[24,51.6],[31,52]],
  [[22.2,48],[21,46.2],[22.7,44.2],[22.5,42.3],[23,41.3],[26.2,41.7],[26.2,40.8]],
  [[22.8,48],[26.6,48.2],[28.2,45.5]],[[26.6,48.2],[29,47.5],[30,46.4],[28.2,45.5]],
  [[22.7,44],[28.5,43.7]],[[26.2,41.7],[28,42]],
  [[16.3,46.8],[18.8,45.9],[21,46.2]],
  [[13.6,45.5],[16.3,46.5]],
  [[15.8,45.2],[19,45],[17.5,43],[16,44.4],[15.8,45.2]],
  [[19,45],[19.5,43.5],[18.5,42.6]],
  [[19.3,42.2],[20.5,42.3],[21,41],[20.5,40],[20,39.7]],
  [[20.5,42],[22.5,42.3],[23,41.3],[21,41]],
  [[11.3,59],[12.5,61],[12,63.5],[15,66.2],[18,68.5],[20.5,69],[25,68.7],[28.5,69.5],[29,70]],
  [[20.5,69],[23.5,67.8],[24,65.8]],
  [[29,69.8],[29,66.9],[31.5,62.8],[28,60.5]],
  // asia
  [[39.5,43.5],[44,42.7],[48.5,41.8]],
  [[41.5,41.5],[43.5,41.1],[45,41.2],[46.5,39],[44.8,39.7],[43.7,40.2],[43.5,41.1]],
  [[46.5,39],[48,39.5],[48.9,38.4]],[[45,41.2],[46.5,41.8]],
  [[44.8,39.7],[44.4,37.5]],[[36,36.7],[42.4,37.2],[44.4,37.2]],
  [[44.8,37.2],[45.8,35],[46,33],[48.5,30]],
  [[42.4,37.2],[41,34.5],[38.8,33.4],[36,32.6],[35.7,32.7]],
  [[38.8,33.4],[39,32],[37,31.5],[38,30.5],[36,29.2],[35,29.4]],
  [[35,29.5],[35.5,31.5],[35.7,33.2],[36.6,34.3],[36,34.6]],[[35.1,33.1],[35.7,33.2]],
  [[34.9,29.5],[34.3,31.3]],
  [[39,32],[44.5,29.2],[46.5,29.1],[48,29.5]],
  [[43,16.6],[44.5,17.4],[47,17],[52,19],[53,16.7]],
  [[52,19],[55,20],[55.7,22],[52,23],[51.6,24.2]],
  [[55.7,22],[56,24.5],[56.4,25]],
  [[53.9,37.3],[57,38],[61,36.6],[61,31.5],[63,27.2],[61.5,25.2]],
  [[61,29.5],[64,29.5],[66.5,31],[69.5,33],[71,36.5],[74.5,37]],
  [[61,36.6],[64.5,37],[66.5,37.4],[68,37],[71.5,38],[74.9,37.3],[73.8,39.6],[80.2,42.2]],
  [[66.5,37.4],[62,41],[58,42],[56,41.3],[56,45],[59,45.5],[61,44],[66,43],[68,41],[70.5,42.3],[74,43],[80.2,42.2],[80,45],[83,47.2],[85.7,48],[87.3,49.1]],
  [[53,42],[56,41.3]],[[70.5,41],[73.5,39.8]],[[69,40],[73,39.5]],
  [[48.5,46.5],[47,49],[51,51.5],[55,50.7],[61,51],[60,54],[65,54.5],[71,55.2],[77,53.5],[83,51],[87.3,49.1],[92,50.7],[98,50],[98,52],[102,51.4],[108,49.5],[114,50.2],[116.7,49.8]],
  [[87.3,49.1],[91,46],[96,42.7],[105,41.7],[111,43.5],[112,45],[119.7,46.7],[116,47.8],[116.7,49.8],[120,53.3],[125,53],[127.5,49.7],[131,47.7],[135,48.4],[131,45],[130.7,42.5],[128,41.5],[124.4,40]],
  [[126.7,37.8],[128.3,38.6]],
  [[74.5,37],[78,35.5],[79,32.5],[81,30.2],[88,27.8],[89,27.3],[92,28],[97.3,28.3]],
  [[81,30.2],[80,28.7],[84,27.4],[88,26.4],[88,27.8]],[[89,27.3],[92,26.8],[92,28]],
  [[74.5,37],[74,33],[74.5,31],[70,28],[71,25],[68,23.8]],
  [[88,26.4],[88.7,24.3],[89,22]],[[88,26],[89.8,26],[92.4,25],[92.5,24],[92.3,21.5]],
  [[97.3,28.3],[94.5,25],[93.2,22.2],[92.3,21.5]],
  [[97.3,28.3],[98,24],[99.5,22],[101.2,21.5],[102,22.4],[106,22.9],[108,21.6]],
  [[101.2,21.5],[100,20.4]],
  [[102,22.4],[104,19.5],[107.5,14.7],[106,11],[104.5,10.4]],[[105.6,14.2],[107.5,14.7]],
  [[109.7,2],[114,1.3],[115.5,3.5],[117.5,4.2]],
  [[124.9,-9],[125,-9.5]]
];

// lakes and enclaves
const waterShapes = [
  [[47,45],[51,47],[53,46.5],[53,45],[51,44.5],[50.5,43],[53,41.5],[53,39],[54,37],[51.5,36.7],[49,37.5],[49.5,40.5],[47.5,43]],
  [[34.3,-9.7],[34.9,-11.5],[34.7,-13.8],[34.2,-12]]
];
const lesotho = [[27,-29.6],[28.5,-28.6],[29.4,-29.5],[28.3,-30.5],[27.3,-30.3]];
const eswatini = [[31,-26],[32,-26],[32,-27.2],[31,-27.3]];
const rwandaBurundi = [[29.1,-1.5],[30.3,-1.5],[30.5,-3],[29.5,-4.3],[29,-3]];

// Robinson table
const robLat = [0,5,10,15,20,25,30,35,40,45,50,55,60,65,70,75,80,85,90];
const robX = [1,.9986,.9954,.99,.9822,.973,.96,.9427,.9216,.8962,.8679,.835,.7986,.7597,.7186,.6732,.6213,.5722,.5322];
const robY = [0,.062,.124,.186,.248,.31,.372,.434,.4958,.5571,.6176,.6769,.7346,.7903,.8435,.8936,.9394,.9761,1];

const W = 3208, H = 1759;
const mapX = 1636, mapY = 1117, kx = 359, ky = 565;

const xFactor = d3.scaleLinear().domain(robLat).range(robX);
const yFactor = d3.scaleLinear().domain(robLat).range(robY);

const robinson = d3.geoTransform({
  point: function(lon, lat) {
    const a = Math.abs(lat);
    this.stream.point(
      mapX + kx * xFactor(a) * lon * Math.PI / 180,
      mapY - Math.sign(lat) * ky * yFactor(a)
    );
  }
});
const path = d3.geoPath(robinson);
const poly = ring => ({type: "Polygon", coordinates: [ring.concat([ring[0]])]});

const svg = d3.select("#chart").append("svg")
    .attr("width", W)
    .attr("height", H)
    .style("display", "block");

// frame
svg.append("rect")
    .attr("x", 24).attr("y", 25)
    .attr("width", 3161).attr("height", 1700)
    .attr("fill", "#fff")
    .attr("stroke", "#d9d9d9")
    .attr("stroke-width", 4);

svg.append("text")
    .attr("x", 1605).attr("y", 183)
    .attr("text-anchor", "middle")
    .attr("font-size", 116)
    .attr("textLength", 1537)
    .attr("lengthAdjust", "spacingAndGlyphs")
    .text("Included studies mapped (N=47)");

// colour scale and legend
const color = d3.scaleLinear().domain(legendTicks).range(["#fbe5d6", "#c55a11"]);
const legendX = d3.scaleLinear().domain(legendTicks).range([1447, 1987]);

const grad = svg.append("defs").append("linearGradient").attr("id", "legendGrad");
grad.selectAll("stop").data(legendTicks).enter().append("stop")
    .attr("offset", (d, i) => i * 100 + "%")
    .attr("stop-color", d => color(d));

svg.append("rect")
    .attr("x", legendX(1)).attr("y", 316)
    .attr("width", legendX(9) - legendX(1)).attr("height", 60)
    .attr("fill", "url(#legendGrad)")
    .attr("stroke", "#7f7f7f")
    .attr("stroke-width", 2.5);

svg.append("text")
    .attr("x", 1396).attr("y", 375)
    .attr("text-anchor", "end")
    .attr("font-size", 70)
    .attr("textLength", 220)
    .attr("lengthAdjust", "spacingAndGlyphs")
    .text("Series1");

svg.selectAll("text.legendTick").data(legendTicks).enter().append("text")
    .attr("class", "legendTick")
    .attr("x", d => legendX(d) + 1)
    .attr("y", 481)
    .attr("text-anchor", "middle")
    .attr("font-size", 68)
    .text(d => d);

// map
const map = svg.append("g");

map.selectAll("path.land")
    .data([northAmerica, southAmerica, africa, eurasia, greenland, australia, antarctica].concat(bigIslands))
    .enter().append("path")
    .attr("class", "land")
    .attr("d", d => path(poly(d)));

map.selectAll("path.tiny").data(tinyIslands).enter().append("path")
    .attr("class", "land tiny")
    .attr("d", d => path(poly([[d[0]-.4,d[1]+.3],[d[0]+.4,d[1]+.3],[d[0],d[1]-.4]])));

map.append("path")
    .attr("class", "border")
    .attr("d", path({type: "MultiLineString", coordinates: borders}));

map.selectAll("path.water").data(waterShapes).enter().append("path")
    .attr("class", "water")
    .attr("d", d => path(poly(d)));

map.selectAll("path.study").data(studyCountries).enter().append("path")
    .attr("class", "study")
    .attr("fill", (d, i) => color(studyCounts[i]))
    .attr("stroke", "#808080")
    .attr("stroke-width", 2.1)
    .attr("stroke-linejoin", "round")
    .attr("d", (d, i) => path(poly(studyShapes[i])));

map.selectAll("path.hole").data([lesotho, eswatini, rwandaBurundi]).enter().append("path")
    .attr("class", "hole")
    .attr("d", d => path(poly(d)));

// attribution
svg.append("text")
    .attr("x", 3143).attr("y", 1607)
    .attr("text-anchor", "end")
    .attr("font-size", 44)
    .attr("textLength", 340)
    .attr("lengthAdjust", "spacingAndGlyphs")
    .text("Powered by Bing");

svg.append("text")
    .attr("x", 3143).attr("y", 1667)
    .attr("text-anchor", "end")
    .attr("font-size", 44)
    .attr("textLength", 1096)
    .attr("lengthAdjust", "spacingAndGlyphs")
    .text("© GeoNames, Microsoft, Navinfo, TomTom, Wikipedia");
</script>
</body>
</html>
